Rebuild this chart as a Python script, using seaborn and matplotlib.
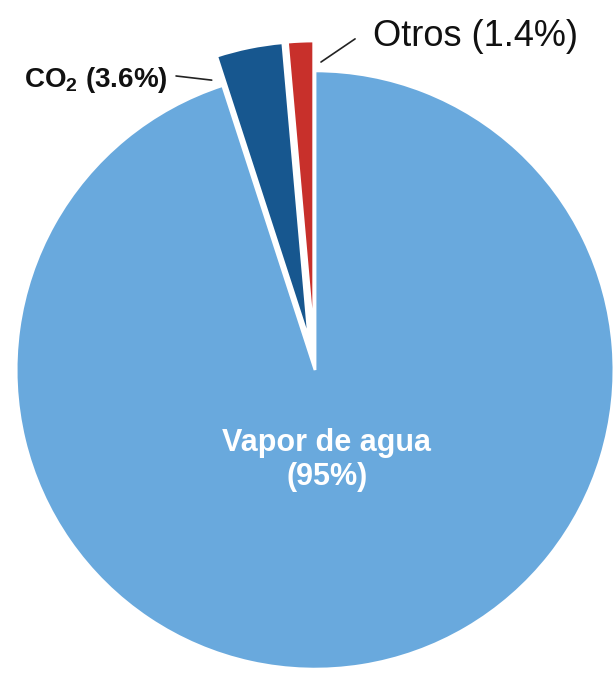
import numpy as np
import seaborn as sns
import matplotlib.pyplot as plt

labels = ["Otros", "CO$_\\mathbf{2}$", "Vapor de agua"]
shares = [1.4, 3.6, 95.0]
colors = ["#c8302b", "#17578f", "#69a9dd"]
explode = [0.1, 0.1, 0.0]

sns.set_style("white")
plt.rcParams["font.family"] = ["Liberation Sans", "DejaVu Sans"]
plt.rcParams["mathtext.fontset"] = "custom"
plt.rcParams["mathtext.rm"] = "Liberation Sans"
plt.rcParams["mathtext.bf"] = "Liberation Sans:bold"

fig = plt.figure(figsize=(6.16, 6.73), dpi=100)
ax = fig.add_axes([0, 0, 1, 1])

wedges, _ = ax.pie(
    shares,
    colors=colors,
    explode=explode,
    startangle=90,
    counterclock=True,
    radius=1.0,
    wedgeprops=dict(edgecolor="white", linewidth=2),
)

ax.set_xlim(-1.054, 1.007)
ax.set_ylim(-1.013, 1.237)
ax.set_aspect("auto")
ax.axis("off")

# angles of the two small wedges
angles = np.cumsum([0] + shares) / 100 * 360 + 90

def edge_point(i, ang, r):
    w = wedges[i]
    cx, cy = w.center
    a = np.deg2rad(ang)
    return cx + r * np.cos(a), cy + r * np.sin(a)

# Otros leader line (just right of the red wedge)
x0, y0 = edge_point(0, angles[0] - 1.5, 0.93)
ax.plot([x0, 0.134], [y0, 1.107], color="#222222", lw=1.2)
ax.text(0.194, 1.114, f"{labels[0]} ({shares[0]}%)", fontsize=26,
        ha="left", va="center", color="#111111")

# CO2 leader line (just left of the dark blue wedge)
x1, y1 = edge_point(1, angles[2] + 2.5, 0.93)
ax.plot([x1, -0.465], [y1, 0.983], color="#222222", lw=1.2)
ax.text(-0.492, 0.970, f"{labels[1]} ({shares[1]}%)", fontsize=20,
        fontweight="bold", ha="right", va="center", color="#111111")

ax.text(0.039, -0.301, f"{labels[2]}\n({shares[2]:.0f}%)", fontsize=22,
        fontweight="bold", ha="center", va="center", color="white",
        linespacing=1.15)

fig.savefig("out.png", dpi=100)
